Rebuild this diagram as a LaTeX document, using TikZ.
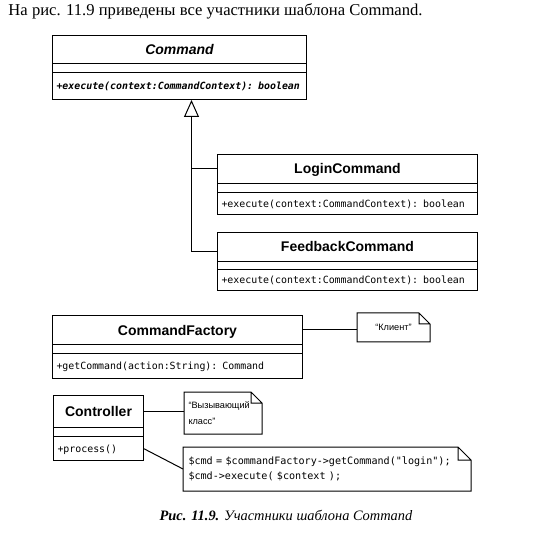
\documentclass[tikz,border=0pt]{standalone}
\usepackage{fontspec}
\setmainfont{Liberation Serif}
\newfontfamily\umlsans{Liberation Sans}
\newfontfamily\umlmono{DejaVu Sans Mono}
\usetikzlibrary{shapes.multipart,arrows.meta,calc}

% Compartimentos de clase
\newcommand{\clsname}[2][28pt]{{\noindent\centering\umlsans\bfseries\fontsize{14}{16}\selectfont\rule[-\dimexpr#1/2-5pt\relax]{0pt}{#1}#2\par}}
\newcommand{\clsop}[2][22pt]{{\noindent\umlmono\fontsize{9.9}{12}\selectfont\rule[-\dimexpr#1/2-3.6pt\relax]{0pt}{#1}#2\par}}
\newcommand{\clsgap}[1][8pt]{\noindent\rule{0pt}{#1}}
% Marco de nota con esquina doblada
\newcommand{\noteframe}[2][11pt]{\draw (#2.north west) -- ([xshift=-#1]#2.north east) -- ([yshift=-#1]#2.north east) -- (#2.south east) -- (#2.south west) -- cycle ([xshift=-#1]#2.north east) |- ([yshift=-#1]#2.north east);}

\tikzset{
  umlclass/.style={rectangle split, rectangle split parts=3, draw, anchor=north west,
    inner xsep=4pt, inner ysep=0pt, text width=#1, align=left},
  note/.style={anchor=north west, inner xsep=5pt, inner ysep=0pt, align=left},
  notetext/.style={font=\umlsans\fontsize{9.2}{15.5}\selectfont},
  codetext/.style={font=\umlmono\fontsize{10.1}{14.5}\selectfont},
  inherit/.style={-{Triangle[open, length=17pt, width=15pt]}},
}

\begin{document}
\begin{tikzpicture}[x=1pt, y=-1pt, line width=1pt]
    \useasboundingbox (0,0) rectangle (552,540);

    % Texto
    \node[anchor=base west, inner sep=0pt, font=\fontsize{16.6}{19}\selectfont] (intro) at (8,16)
        {На рис. 11.9 приведены все участники шаблона Command.};

    % Clases
    \node[umlclass=246pt] (cmd) at (52,35)
        {\clsname[27pt]{\itshape Command}\nodepart{two}\clsgap
         \nodepart{three}\clsop[26pt]{\bfseries\itshape +execute(context:CommandContext): boolean}};
    \node[umlclass=252pt] (login) at (217,154)
        {\clsname{LoginCommand}\nodepart{two}\clsgap
         \nodepart{three}\clsop[21pt]{+execute(context:CommandContext): boolean}};
    \node[umlclass=252pt] (feedback) at (217,232)
        {\clsname{FeedbackCommand}\nodepart{two}\clsgap[7pt]
         \nodepart{three}\clsop[20pt]{+execute(context:CommandContext): boolean}};
    \node[umlclass=242pt] (factory) at (52,315)
        {\clsname{CommandFactory}\nodepart{two}\clsgap
         \nodepart{three}\clsop[24pt]{+getCommand(action:String): Command}};
    \node[umlclass=82pt] (ctrl) at (53,395)
        {\clsname[31pt]{Controller}\nodepart{two}\clsgap
         \nodepart{three}\clsop[23pt]{+process()}};

    % Herencia
    \coordinate (apex) at ([xshift=12pt]cmd.south);
    \coordinate (loginin) at ($(login.north west)!0.5!(login.text split west)$);
    \coordinate (feedbackin) at ($(feedback.north west)!0.65!(feedback.text split west)$);
    \draw[inherit] (feedbackin) -| (apex);
    \draw (loginin) -- (loginin -| apex);

    % Notas
    \node[note, notetext, minimum width=72pt, minimum height=28pt, align=center] (client) at (357,313) {“Клиент”};
    \noteframe{client}
    \node[note, notetext, text width=69pt, minimum height=41pt, inner xsep=4pt] (caller) at (184,392) {“Вызывающий\\ класс”};
    \noteframe{caller}
    \node[note, codetext, text width=277pt, minimum height=43pt] (code) at (183,447)
        {\$cmd = \$commandFactory->getCommand("login");\\ \$cmd->execute( \$context );};
    \noteframe[13pt]{code}

    % Enlaces a notas
    \coordinate (factoryout) at ($(factory.north east)!0.5!(factory.text split east)$);
    \draw (factoryout) -- (factoryout -| client.west);
    \coordinate (ctrlout) at ($(ctrl.north east)!0.5!(ctrl.text split east)$);
    \draw (ctrlout) -- (ctrlout -| caller.west);
    \coordinate (ctrlop) at ($(ctrl.two split east)!0.5!(ctrl.south east)$);
    \draw (ctrlop) -- (code.west);

    % Pie
    \node[anchor=base, inner sep=0pt, font=\fontsize{14.4}{17}\selectfont] (caption) at (286,520)
        {\textbf{\textit{Рис. 11.9.}} \textit{Участники шаблона Command}};
\end{tikzpicture}
\end{document}
